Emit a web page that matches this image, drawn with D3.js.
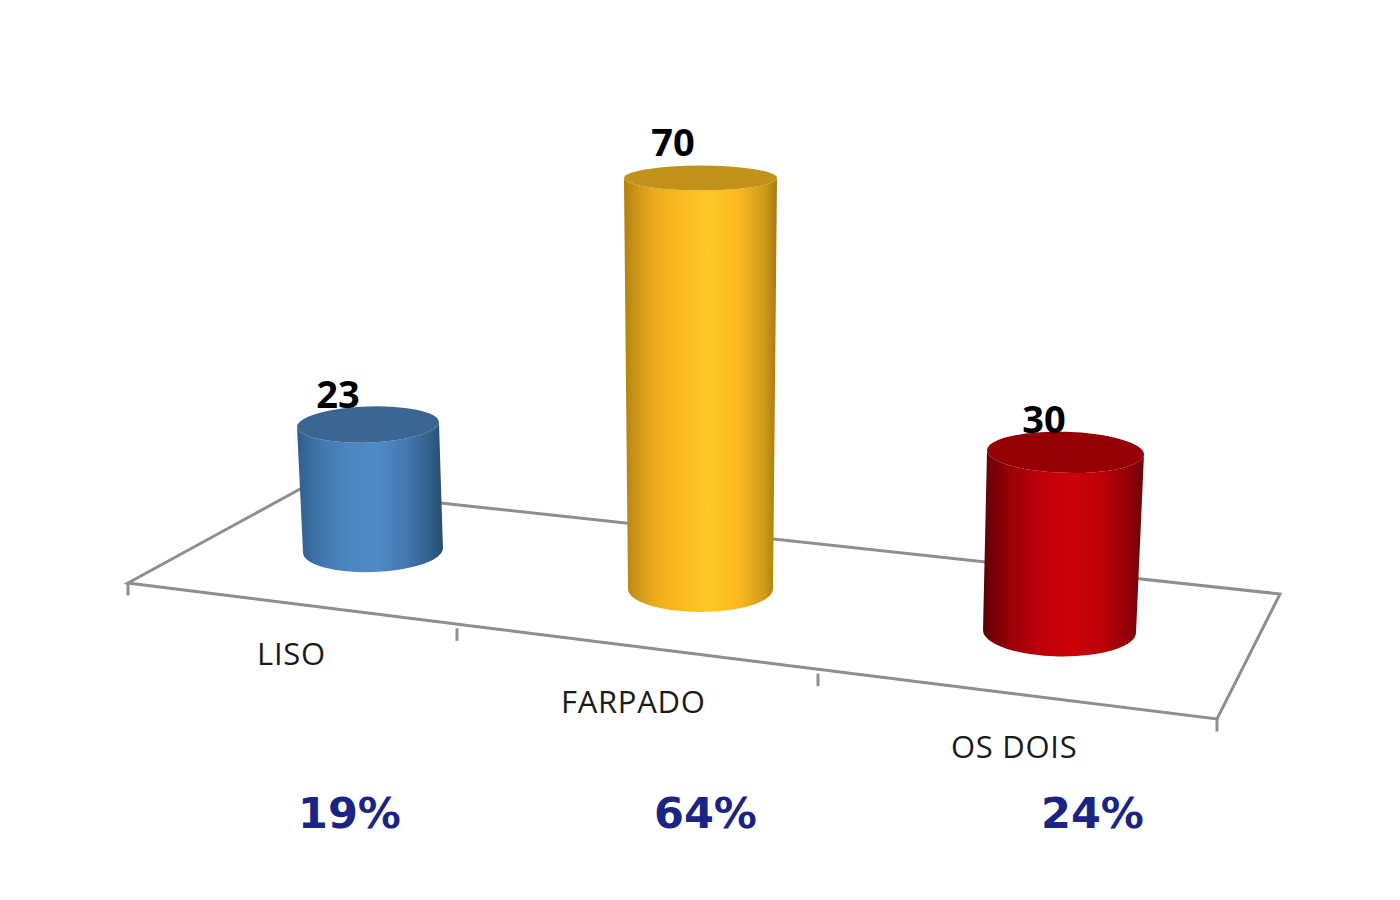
<!DOCTYPE html>
<html><head><meta charset="utf-8">
<script src="https://cdn.jsdelivr.net/npm/d3@7/dist/d3.min.js"></script>
<style>html,body{margin:0;padding:0;background:#fff}svg{display:block}</style>
</head><body><svg id="c" width="1400" height="900"></svg>
<script>
const categories = ["LISO", "FARPADO", "OS DOIS"];
const values = [23, 70, 30];
const percents = ["19%", "64%", "24%"];

// Layout of the picture (perspective), separate from the data
const baseX = [373, 700.5, 1059.5], baseY = [550.5, 589, 631.5];
const lean = [-5, 0, 6], depth = [0.933, 1, 1.017];
const rxBot = [70, 72.5, 76.5], rxTop = [71, 76.5, 78.5];
const ryBot = [21.5, 23, 25], ryTop = [18, 12.5, 20.5];
const tiltBot = [-2, 0, 1], tiltTop = [-2, 0, 1.6];
const stopOffsets = [0, .04, .18, .36, .55, .75, .92, 1];
const palette = [
  {stops:["#2f5a88","#356494","#4379b0","#4c86c2","#4f8ac8","#4478ae","#315d88","#294d6e"], top:"#3b6692"},
  {stops:["#b07f10","#c08c14","#eaa91c","#fbb91f","#ffc926","#fcb81f","#cf9a18","#a67a14"], top:"#c0921a"},
  {stops:["#5a0006","#6e0006","#9c0008","#bf0009","#cb000a","#bb0009","#8c0008","#6e0006"], top:"#950005"}
];
const valueLabelX = [338, 673, 1044], valueLabelY = [408, 156, 433];
const catLabelX = [257, 561, 951], catLabelY = [665, 713, 758];
const pctX = [298, 654, 1041], pctY = 828;

const svg = d3.select("#c");
const height = d3.scaleLinear().domain([0, 70]).range([0, 411]);

// floor front edge: one scale per screen axis, over category boundaries
const edgeX = d3.scaleLinear().domain([0, 1, 2, 3]).range([128, 457, 818, 1217]);
const edgeY = d3.scaleLinear().domain([0, 3]).range([583, 719]);
const floorCorners = [[128,583],[302,488],[1280,594],[1217,719]];
const axisColor = "#8e8e8e";

svg.append("path")
  .attr("d", d3.line()(floorCorners) + "Z")
  .attr("fill", "none").attr("stroke", axisColor).attr("stroke-width", 3);
svg.selectAll("line.tick").data(d3.range(categories.length + 1)).join("line")
  .attr("class", "tick")
  .attr("x1", edgeX).attr("x2", edgeX)
  .attr("y1", edgeY).attr("y2", d => edgeY(d) + 12.5)
  .attr("stroke", axisColor).attr("stroke-width", 3);

const defs = svg.append("defs");
palette.forEach((p, i) => {
  const body = defs.append("linearGradient").attr("id", "body" + i);
  p.stops.forEach((c, k) =>
    body.append("stop").attr("offset", stopOffsets[k]).attr("stop-color", c));
});

categories.forEach((cat, i) => {
  const h = height(values[i]) * depth[i];
  const cxB = baseX[i], cyB = baseY[i], cxT = cxB + lean[i], cyT = cyB - h;
  const pt = (cx, cy, rx, deg, s) => {
    const a = deg * Math.PI / 180;
    return [cx + s * rx * Math.cos(a), cy + s * rx * Math.sin(a)];
  };
  const tl = pt(cxT, cyT, rxTop[i], tiltTop[i], -1), tr = pt(cxT, cyT, rxTop[i], tiltTop[i], 1);
  const bl = pt(cxB, cyB, rxBot[i], tiltBot[i], -1), br = pt(cxB, cyB, rxBot[i], tiltBot[i], 1);
  svg.append("path")
    .attr("d", `M${tl} L${bl} A${rxBot[i]} ${ryBot[i]} ${tiltBot[i]} 0 0 ${br} L${tr} A${rxTop[i]} ${ryTop[i]} ${tiltTop[i]} 0 1 ${tl}Z`)
    .attr("fill", `url(#body${i})`);
  svg.append("ellipse")
    .attr("cx", cxT).attr("cy", cyT).attr("rx", rxTop[i]).attr("ry", ryTop[i])
    .attr("transform", `rotate(${tiltTop[i]} ${cxT} ${cyT})`)
    .attr("fill", palette[i].top);
});

svg.selectAll("text.val").data(values).join("text")
  .attr("class", "val")
  .attr("x", (d, i) => valueLabelX[i]).attr("y", (d, i) => valueLabelY[i])
  .attr("text-anchor", "middle")
  .attr("font-family", "'Open Sans'").attr("font-weight", 700).attr("font-size", 38)
  .attr("fill", "#000").text(d => d);

svg.selectAll("text.cat").data(categories).join("text")
  .attr("class", "cat")
  .attr("x", (d, i) => catLabelX[i]).attr("y", (d, i) => catLabelY[i])
  .attr("font-family", "'Open Sans'").attr("font-size", 31).attr("letter-spacing", 0.7)
  .attr("fill", "#1a1a1a").text(d => d);

svg.selectAll("text.pct").data(percents).join("text")
  .attr("class", "pct")
  .attr("x", (d, i) => pctX[i]).attr("y", pctY)
  .attr("font-family", "'DejaVu Sans'").attr("font-weight", 700).attr("font-size", 43)
  .attr("fill", "#1a2484").text(d => d);
</script></body></html>
